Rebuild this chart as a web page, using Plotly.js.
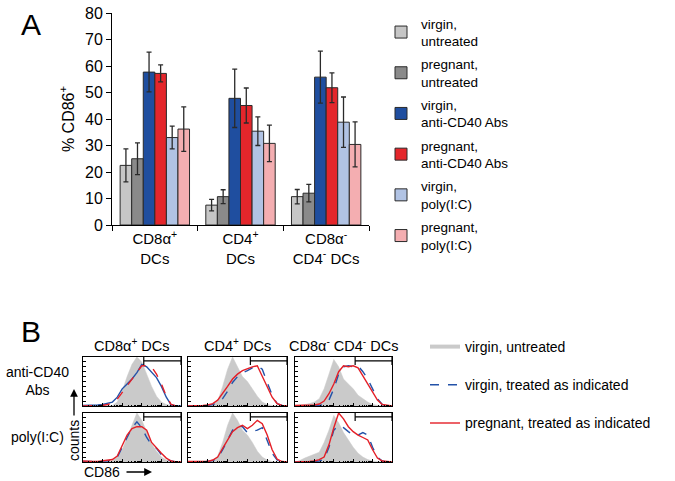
<!DOCTYPE html>
<html>
<head>
<meta charset="utf-8">
<script src="https://cdn.plot.ly/plotly-3.0.1.min.js"></script>
<style>html,body{margin:0;padding:0;background:#fff;}#chart{width:675px;height:481px;}</style>
</head>
<body>
<div id="chart"></div>
<script>
// ---------- Panel A data ----------
const categories = ['CD8\u03b1<sup>+</sup><br>DCs', 'CD4<sup>+</sup><br>DCs', 'CD8\u03b1<sup>-</sup><br>CD4<sup>-</sup> DCs'];
const seriesNames = ['virgin,<br>untreated', 'pregnant,<br>untreated', 'virgin,<br>anti-CD40 Abs', 'pregnant,<br>anti-CD40 Abs', 'virgin,<br>poly(I:C)', 'pregnant,<br>poly(I:C)'];
const virginUntreated   = [22.5, 7.5, 10.7];
const pregnantUntreated = [25.0, 10.7, 12.0];
const virginCD40        = [57.7, 47.8, 55.8];
const pregnantCD40      = [57.2, 45.1, 51.8];
const virginPoly        = [33.0, 35.4, 38.8];
const pregnantPoly      = [36.2, 30.8, 30.4];
const virginUntreatedErr   = [6.2, 2.2, 2.7];
const pregnantUntreatedErr = [6.0, 2.6, 3.3];
const virginCD40Err        = [7.5, 11.0, 9.8];
const pregnantCD40Err      = [3.2, 6.6, 5.6];
const virginPolyErr        = [4.3, 5.4, 9.5];
const pregnantPolyErr      = [8.4, 6.9, 8.5];
const barColors = ['#c6c6c6', '#8a8a8a', '#1f4e9f', '#e4262b', '#b1c3e4', '#f4aeb1'];

// ---------- Panel B data (CD86 histograms, % of panel max, over fluorescence bins) ----------
const binPos = [0,5,10,15,20,25,30,35,40,45,50,55,60,65,70,75,80,85,90,95,100];
const histCols = ['CD8\u03b1<sup>+</sup> DCs', 'CD4<sup>+</sup> DCs', 'CD8\u03b1<sup>-</sup> CD4<sup>-</sup> DCs'];
const histRows = ['anti-CD40<br>Abs', 'poly(I:C)'];
// row 1: anti-CD40 Abs
const grayCD8_CD40  = [0,0,0,0,0,0,1,8,30,60,85,100,90,65,40,20,8,3,1,0,0];
const blueCD8_CD40  = [1,1,2,2,3,5,8,18,35,45,55,68,85,80,70,58,40,18,2,0,0];
const redCD8_CD40   = [0,0,0,0,1,3,6,14,28,42,55,68,82,82,80,65,45,20,3,0,0];
const grayCD4_CD40  = [0,0,0,0,0,3,10,40,75,100,80,60,50,35,20,8,3,1,0,0,0];
const blueCD4_CD40  = [0,0,0,0,1,3,6,15,30,48,60,68,72,78,82,75,50,22,5,1,0];
const redCD4_CD40   = [0,0,0,1,2,5,12,25,40,55,65,72,76,80,82,60,38,18,5,1,0];
const grayDN_CD40   = [0,1,3,5,8,15,35,65,95,80,55,45,35,22,15,8,3,1,0,0,0];
const blueDN_CD40   = [0,0,0,0,0,1,3,12,35,65,80,82,80,82,70,55,35,15,3,0,0];
const redDN_CD40    = [1,1,1,1,2,4,10,25,45,70,82,80,82,78,62,45,28,12,3,1,0];
// row 2: poly(I:C)
const grayCD8_Poly  = [0,0,0,0,0,0,3,10,25,50,75,100,85,60,38,22,10,4,1,0,0];
const blueCD8_Poly  = [1,1,1,1,2,2,4,10,30,50,70,82,70,50,35,28,15,6,2,0,0];
const redCD8_Poly   = [2,1,1,1,2,3,5,12,35,55,68,72,72,65,40,28,18,8,2,0,0];
const grayCD4_Poly  = [0,0,0,0,0,3,12,40,75,100,85,65,55,40,22,10,4,1,0,0,0];
const blueCD4_Poly  = [0,0,0,0,1,3,8,25,45,65,75,72,60,62,65,70,45,18,4,0,0];
const redCD4_Poly   = [1,1,1,1,1,4,10,28,45,62,70,75,68,75,85,78,55,25,6,1,0];
const grayDN_Poly   = [0,3,8,12,15,20,40,65,95,80,60,45,30,18,10,5,2,1,0,0,0];
const blueDN_Poly   = [0,0,0,0,1,2,5,30,65,75,70,62,55,55,60,55,30,10,2,0,0];
const redDN_Poly    = [0,0,1,1,2,5,10,35,70,100,88,72,62,55,50,45,25,8,2,1,0];
const gateStart = [62, 63, 62, 62, 63, 62];
const gateEnd = 100;
const gateLevel = 92;

// ---------- layout helpers ----------
const W = 675, H = 481;
const px = p => p / W;
const py = p => 1 - p / H;
const FONT = 'Liberation Sans, Arial, Helvetica, sans-serif';
const GRAY = '#cacaca', BLUE = '#2352a8', RED = '#e41f27';

const traces = [];
const barVals = [virginUntreated, pregnantUntreated, virginCD40, pregnantCD40, virginPoly, pregnantPoly];
const barErrs = [virginUntreatedErr, pregnantUntreatedErr, virginCD40Err, pregnantCD40Err, virginPolyErr, pregnantPolyErr];
barVals.forEach((v, i) => {
  traces.push({
    type: 'bar', x: categories, y: v, name: seriesNames[i],
    xaxis: 'x', yaxis: 'y', legend: 'legend', legendgroup: 'bar' + i,
    marker: {color: barColors[i], line: {color: '#2a2a2a', width: 1}},
    error_y: {type: 'data', array: barErrs[i], visible: true, color: '#2a2a2a', thickness: 1.3, width: 2.5}
  });
});

const panels = [
  {g: grayCD8_CD40, b: blueCD8_CD40, r: redCD8_CD40, swap: true},
  {g: grayCD4_CD40, b: blueCD4_CD40, r: redCD4_CD40},
  {g: grayDN_CD40,  b: blueDN_CD40,  r: redDN_CD40},
  {g: grayCD8_Poly, b: blueCD8_Poly, r: redCD8_Poly},
  {g: grayCD4_Poly, b: blueCD4_Poly, r: redCD4_Poly},
  {g: grayDN_Poly,  b: blueDN_Poly,  r: redDN_Poly}
];
const colX = [[83, 181], [188, 287], [295, 392]];
const rowY = [[357, 406], [413, 462]];

function note(text, x, y, size, extra) {
  return Object.assign({text: text, x: px(x), y: py(y), xref: 'paper', yref: 'paper', showarrow: false,
    xanchor: 'center', yanchor: 'middle', font: {size: size, family: FONT, color: '#000'}}, extra || {});
}

const layout = {
  width: W, height: H, margin: {l: 0, r: 0, t: 0, b: 0},
  paper_bgcolor: '#fff', plot_bgcolor: 'rgba(0,0,0,0)',
  font: {family: FONT, color: '#000'},
  barmode: 'group', bargap: 0.19, bargroupgap: 0,
  showlegend: true,
  xaxis: {
    domain: [px(112), px(369)], type: 'category', anchor: 'y',
    showline: true, linecolor: '#000', linewidth: 1,
    ticks: 'outside', tickson: 'boundaries', ticklen: 5, tickcolor: '#000',
    tickfont: {size: 15, family: FONT}, showgrid: false, zeroline: false, fixedrange: true
  },
  yaxis: {
    domain: [py(225), py(13)], range: [0, 80], dtick: 10, anchor: 'x',
    showline: true, linecolor: '#000', linewidth: 1,
    ticks: 'outside', ticklen: 5, tickcolor: '#000',
    tickfont: {size: 16, family: FONT}, showgrid: false, zeroline: false,
    title: {text: '% CD86<sup>+</sup>', font: {size: 16, family: FONT}, standoff: 6}
  },
  legend: {
    x: px(381), xanchor: 'left', y: py(8), yanchor: 'top',
    font: {size: 13.5, family: FONT}, bgcolor: 'rgba(0,0,0,0)', traceorder: 'grouped', tracegroupgap: 2.6, itemwidth: 30
  },
  legend2: {
    x: px(425), xanchor: 'left', y: py(331), yanchor: 'top',
    font: {size: 14, family: FONT}, bgcolor: 'rgba(0,0,0,0)', traceorder: 'grouped', tracegroupgap: 17, itemwidth: 30
  },
  annotations: [
    note('A', 31, 24, 30),
    note('B', 31, 331, 30),
    note(histRows[0], 37, 381, 14),
    note(histRows[1], 37, 437, 14),
    note('counts', 74, 441, 14, {textangle: -90}),
    {text: '', x: px(74), y: py(389), xref: 'paper', yref: 'paper', ax: 0, ay: 28, showarrow: true, arrowhead: 2, arrowsize: 1.2, arrowwidth: 1.3, arrowcolor: '#000'},
    note('CD86', 102, 472, 14),
    {text: '', x: px(152), y: py(472), xref: 'paper', yref: 'paper', ax: -27, ay: 0, showarrow: true, arrowhead: 2, arrowsize: 1.2, arrowwidth: 1.3, arrowcolor: '#000'}
  ]
};

const decadeTicks = [0, 20, 40, 60, 80, 100];
const minorTicks = [];
[0, 20, 40, 60, 80].forEach(d => [2,3,4,5,6,7,8,9].forEach(k => minorTicks.push(d + 20 * Math.log10(k))));

panels.forEach((p, i) => {
  const row = Math.floor(i / 3), col = i % 3;
  const n = i + 2;
  const xa = 'x' + n, ya = 'y' + n;
  layout['xaxis' + n] = {
    domain: [px(colX[col][0]), px(colX[col][1])], range: [0, 100], anchor: ya,
    showline: true, mirror: true, linecolor: '#000', linewidth: 1,
    ticks: 'inside', ticklen: 3, tickcolor: '#000', tickvals: decadeTicks, showticklabels: false,
    minor: {ticks: 'inside', ticklen: 1.5, tickcolor: '#000', tickvals: minorTicks},
    showgrid: false, zeroline: false
  };
  layout['yaxis' + n] = {
    domain: [py(rowY[row][1]), py(rowY[row][0])], range: [0, 100], anchor: xa,
    showline: true, mirror: true, linecolor: '#000', linewidth: 1,
    ticks: 'inside', ticklen: 2.5, tickcolor: '#000', dtick: 10, showticklabels: false,
    showgrid: false, zeroline: false
  };
  if (row === 0) {
    layout.annotations.push(note(histCols[col], (colX[col][0] + colX[col][1]) / 2, 345, 14.5));
  }
  traces.push({type: 'scatter', mode: 'lines', x: binPos, y: p.g, xaxis: xa, yaxis: ya,
    fill: 'tozeroy', fillcolor: GRAY, line: {color: GRAY, width: 0.5}, showlegend: false, hoverinfo: 'skip'});
  const blueDash = p.swap ? 'solid' : 'dash';
  const redDash = p.swap ? 'dash' : 'solid';
  traces.push({type: 'scatter', mode: 'lines', x: binPos, y: p.b, xaxis: xa, yaxis: ya,
    name: 'virgin, treated as indicated', legend: 'legend2', legendgroup: 'vt', legendrank: 2,
    showlegend: i === 1, line: {color: BLUE, width: 1.4, dash: blueDash}});
  traces.push({type: 'scatter', mode: 'lines', x: binPos, y: p.r, xaxis: xa, yaxis: ya,
    name: 'pregnant, treated as indicated', legend: 'legend2', legendgroup: 'pt', legendrank: 3,
    showlegend: i === 1, line: {color: RED, width: 1.4, dash: redDash}});
  traces.push({type: 'scatter', mode: 'lines+markers', x: [gateStart[i], gateEnd], y: [gateLevel, gateLevel],
    xaxis: xa, yaxis: ya, showlegend: false, cliponaxis: false, hoverinfo: 'skip',
    line: {color: '#000', width: 1.2}, marker: {symbol: 'line-ns', size: 6, line: {color: '#000', width: 1.2}}});
});

// legend key for the gray (virgin, untreated) histograms
traces.push({type: 'scatter', mode: 'lines', x: [null], y: [null], xaxis: 'x2', yaxis: 'y2',
  name: 'virgin, untreated', legend: 'legend2', legendgroup: 'vu', legendrank: 1,
  line: {color: GRAY, width: 4}});

Plotly.newPlot('chart', traces, layout, {displayModeBar: false, staticPlot: true});
</script>
</body>
</html>
